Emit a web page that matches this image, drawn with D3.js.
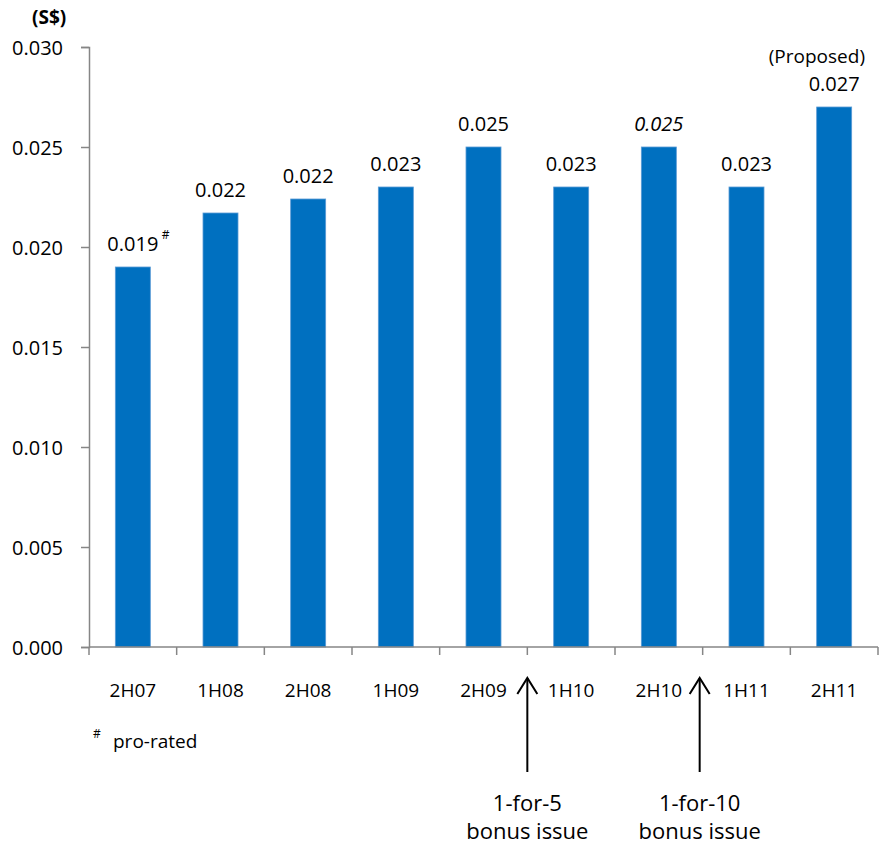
<!DOCTYPE html>
<html>
<head>
<meta charset="utf-8">
<script src="https://cdn.jsdelivr.net/npm/d3@7"></script>
<style>
  body { margin: 0; background: #fff; }
  svg text { font-family: "Open Sans", sans-serif; fill: #000; }
</style>
</head>
<body>
<div id="chart"></div>
<script>
var periods = ["2H07", "1H08", "2H08", "1H09", "2H09", "1H10", "2H10", "1H11", "2H11"];
var dividends = [0.019, 0.0217, 0.0224, 0.023, 0.025, 0.023, 0.025, 0.023, 0.027];
var valueLabels = ["0.019", "0.022", "0.022", "0.023", "0.025", "0.023", "0.025", "0.023", "0.027"];
var yTicks = [0, 0.005, 0.010, 0.015, 0.020, 0.025, 0.030];
var bonusIssues = [
  {after: "2H09", lines: ["1-for-5", "bonus issue"]},
  {after: "2H10", lines: ["1-for-10", "bonus issue"]}
];

var width = 880, height = 853;
var mLeft = 89, mRight = 878, mTop = 47, mBottom = 647;

var svg = d3.select("#chart").append("svg")
    .attr("width", width)
    .attr("height", height);

var x = d3.scaleBand()
    .domain(periods)
    .range([mLeft, mRight])
    .paddingInner(0.6)
    .paddingOuter(0.3);

var y = d3.scaleLinear()
    .domain([0, 0.03])
    .range([mBottom, mTop]);

var cx = d => x(d) + x.bandwidth() / 2;

// bars
svg.selectAll("rect.bar")
    .data(dividends)
  .enter().append("rect")
    .attr("class", "bar")
    .attr("x", (d, i) => cx(periods[i]) - 17.5)
    .attr("width", 35)
    .attr("y", d => y(d))
    .attr("height", d => mBottom - y(d))
    .attr("fill", "#0070c0")
    .attr("stroke", "#5b9bd5")
    .attr("stroke-width", 0.8);

// y axis
var yAxis = svg.append("g")
    .attr("transform", "translate(" + mLeft + ",0)")
    .call(d3.axisLeft(y).tickValues(yTicks).tickFormat(d3.format(".3f")).tickSize(8).tickPadding(18));
yAxis.select(".domain").attr("stroke", "#868686").attr("stroke-width", 1.5);
yAxis.selectAll(".tick line").attr("stroke", "#868686").attr("stroke-width", 1.5);
yAxis.selectAll(".tick text").attr("font-size", 20).attr("dy", "0.35em")
    .style("font-family", "'Open Sans', sans-serif");

// x axis line + ticks at band edges
var step = x.step();
var xEdges = d3.range(periods.length + 1).map(i => mLeft + step * i);
svg.append("line")
    .attr("x1", mLeft).attr("x2", mRight)
    .attr("y1", mBottom).attr("y2", mBottom)
    .attr("stroke", "#868686").attr("stroke-width", 1.5);
svg.selectAll("line.xt")
    .data(xEdges)
  .enter().append("line")
    .attr("class", "xt")
    .attr("x1", d => d).attr("x2", d => d)
    .attr("y1", mBottom).attr("y2", mBottom + 8)
    .attr("stroke", "#868686").attr("stroke-width", 1.5);

svg.selectAll("text.cat")
    .data(periods)
  .enter().append("text")
    .attr("class", "cat")
    .attr("x", d => cx(d))
    .attr("y", 697)
    .attr("text-anchor", "middle")
    .attr("font-size", 19)
    .text(d => d);

// value labels
svg.selectAll("text.val")
    .data(dividends)
  .enter().append("text")
    .attr("class", "val")
    .attr("x", (d, i) => cx(periods[i]))
    .attr("y", d => y(d) - 16)
    .attr("text-anchor", "middle")
    .attr("font-size", 20)
    .attr("font-style", (d, i) => periods[i] === "2H10" ? "italic" : null)
    .text((d, i) => valueLabels[i]);

// superscript on first label
svg.append("text")
    .attr("x", cx(periods[0]) + 29)
    .attr("y", y(dividends[0]) - 28)
    .attr("font-size", 12)
    .text("#");

svg.append("text")
    .attr("x", 865)
    .attr("y", y(dividends[8]) - 44)
    .attr("text-anchor", "end")
    .attr("font-size", 19)
    .text("(Proposed)");

// unit
svg.append("text")
    .attr("x", 32).attr("y", 24)
    .attr("font-size", 19)
    .attr("font-weight", "bold")
    .text("(S$)");

// footnote
svg.append("text")
    .attr("x", 93).attr("y", 738)
    .attr("font-size", 12)
    .text("#");
svg.append("text")
    .attr("x", 113).attr("y", 748)
    .attr("font-size", 19)
    .text("pro-rated");

// bonus-issue arrows
bonusIssues.forEach(function(b) {
  var i = periods.indexOf(b.after);
  var ax = mLeft + step * (i + 1) - (i === 6 ? 3 : 0);
  svg.append("line")
      .attr("x1", ax).attr("x2", ax)
      .attr("y1", 772).attr("y2", 678)
      .attr("stroke", "#000").attr("stroke-width", 2);
  svg.append("path")
      .attr("d", "M" + (ax - 10) + ",694 L" + ax + ",678 L" + (ax + 10) + ",694")
      .attr("fill", "none")
      .attr("stroke", "#000")
      .attr("stroke-width", 2);
  b.lines.forEach(function(t, j) {
    svg.append("text")
        .attr("x", ax)
        .attr("y", 811 + j * 28)
        .attr("text-anchor", "middle")
        .attr("font-size", 22)
        .text(t);
  });
});
</script>
</body>
</html>
